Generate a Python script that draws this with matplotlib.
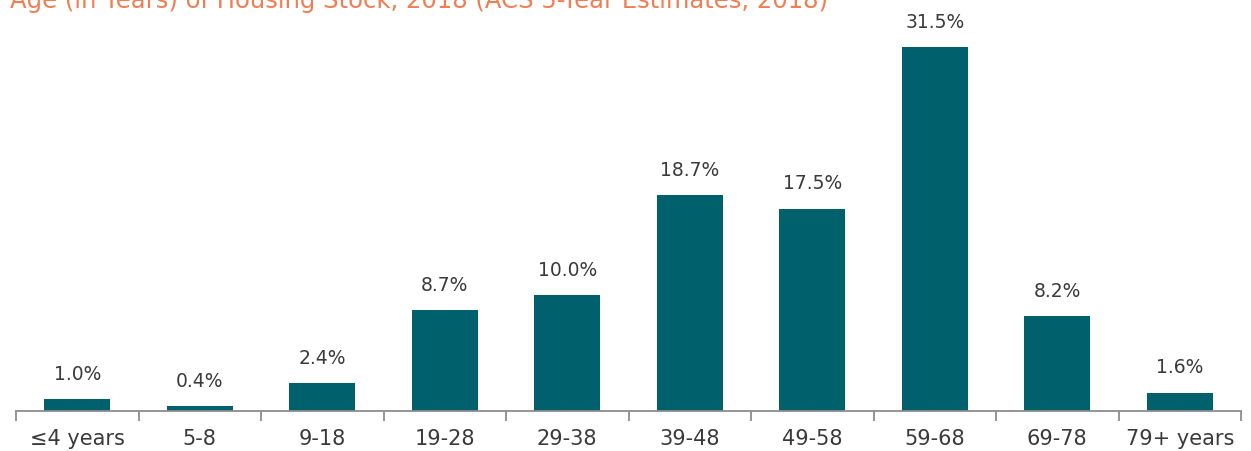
import matplotlib
matplotlib.use("Agg")
import matplotlib.pyplot as plt
import numpy as np

TITLE = "Age (in Years) of Housing Stock, 2018 (ACS 5-Year Estimates, 2018)"
CATEGORIES = ["≤4 years", "5-8", "9-18", "19-28", "29-38", "39-48",
              "49-58", "59-68", "69-78", "79+ years"]
SHARES = [1.0, 0.4, 2.4, 8.7, 10.0, 18.7, 17.5, 31.5, 8.2, 1.6]

BAR_COLOR = "#00606c"
TEXT_COLOR = "#3a3a3a"
AXIS_COLOR = "#8c8c8c"
TITLE_COLOR = "#f07e52"

fig = plt.figure(figsize=(12.51, 4.51), dpi=100)
ax = fig.add_axes([16 / 1251, 40 / 451, 1225 / 1251, 411 / 451])

x = np.arange(len(CATEGORIES))
ax.bar(x, SHARES, width=0.54, color=BAR_COLOR)

for xi, v in zip(x, SHARES):
    ax.annotate(f"{v:.1f}%", (xi, v), xytext=(0, 11), textcoords="offset points",
                ha="center", va="bottom", fontsize=13.5, color=TEXT_COLOR)

ax.set_xlim(-0.5, len(CATEGORIES) - 0.5)
ax.set_ylim(0, 35.55)

ax.set_xticks(x)
ax.set_xticklabels(CATEGORIES, fontsize=15, color=TEXT_COLOR)
ax.tick_params(axis="x", which="major", length=0, pad=13)
ax.set_xticks(np.arange(-0.5, len(CATEGORIES)), minor=True)
ax.tick_params(axis="x", which="minor", length=7, width=1.3, color=AXIS_COLOR)
ax.set_yticks([])

for side in ["top", "right", "left"]:
    ax.spines[side].set_visible(False)
ax.spines["bottom"].set_color(AXIS_COLOR)
ax.spines["bottom"].set_linewidth(1.3)

# the title sits partly above the top edge, as in the source image
fig.text(10 / 1251, 1 - 8 / 451, TITLE, fontsize=17.5, color=TITLE_COLOR,
         family=["Liberation Sans Narrow", "DejaVu Sans"], va="baseline", ha="left")

fig.savefig("out.png", dpi=100, facecolor="white")
